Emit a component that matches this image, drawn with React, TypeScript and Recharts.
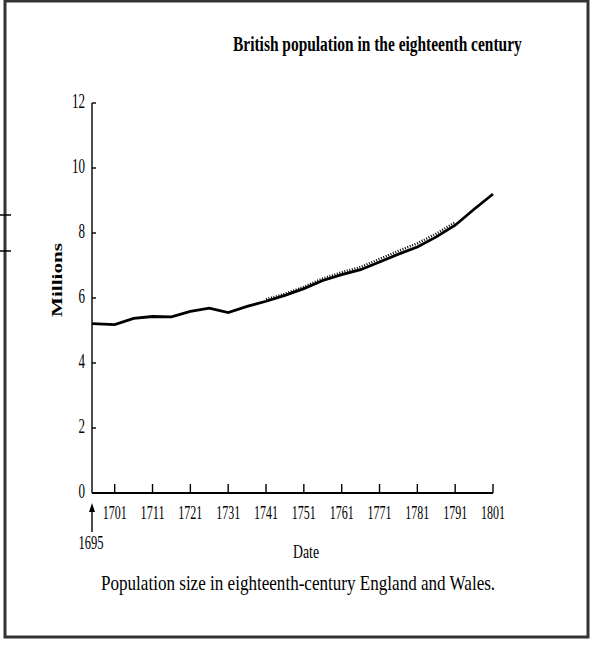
import React from 'react';
import { LineChart, Line, XAxis, YAxis } from 'recharts';

const years = [1695, 1701, 1706, 1711, 1716, 1721, 1726, 1731, 1736, 1741, 1746, 1751, 1756, 1761, 1766, 1771, 1776, 1781, 1786, 1791, 1796, 1801];
const population = [5.21, 5.18, 5.37, 5.43, 5.42, 5.59, 5.69, 5.55, 5.74, 5.9, 6.08, 6.29, 6.54, 6.72, 6.87, 7.11, 7.35, 7.57, 7.88, 8.24, 8.73, 9.2];
// hatched band drawn just above the main line in the source
const hatch = [null, null, null, null, null, null, null, null, null, 5.96, 6.13, 6.34, 6.6, 6.79, 6.95, 7.2, 7.45, 7.68, 7.98, 8.33, null, null];
const xTicks = [1701, 1711, 1721, 1731, 1741, 1751, 1761, 1771, 1781, 1791, 1801];
const yTicks = [0, 2, 4, 6, 8, 10, 12];

const data = years.map((year, i) => ({ year, population: population[i], hatch: hatch[i] }));

const FONT = '"Liberation Serif", "Times New Roman", serif';

const XTick = (props: any) => {
  const { x, y, payload } = props;
  const label = String(payload.value);
  return (
    <g>
      <line x1={x} x2={x} y1={y} y2={y - 9} stroke="#000" strokeWidth={1.4} />
      <text x={x} y={y + 26} textAnchor="middle" fontFamily={FONT} fontSize={19} fill="#000"
        textLength={24} lengthAdjust="spacingAndGlyphs">
        {label}
      </text>
    </g>
  );
};

const YTick = (props: any) => {
  const { x, y, payload } = props;
  const label = String(payload.value);
  return (
    <g>
      <line x1={x} x2={x + 4} y1={y} y2={y} stroke="#000" strokeWidth={1.4} />
      <text x={x - 7} y={y + 5} textAnchor="end" fontFamily={FONT} fontSize={20} fill="#000"
        textLength={6.5 * label.length} lengthAdjust="spacingAndGlyphs">
        {label}
      </text>
    </g>
  );
};

export default function App() {
  return (
    <div style={{ position: 'absolute', left: 0, top: 0, width: 593, height: 646, background: '#fff' }}>
      <svg width={593} height={646} style={{ position: 'absolute', left: 0, top: 0 }}>
        <rect x={5} y={1} width={583} height={636} fill="none" stroke="#333" strokeWidth={3} />
        <line x1={0} x2={11} y1={215} y2={215} stroke="#000" strokeWidth={1.5} />
        <line x1={0} x2={11} y1={251} y2={251} stroke="#000" strokeWidth={1.5} />
        <text transform="translate(233,51) scale(0.736,1)" fontFamily={FONT} fontWeight="bold" fontSize={21} fill="#000">
          British population in the eighteenth century
        </text>
        <text x={0} y={0} transform="translate(62,280) rotate(-90)" textAnchor="middle" fontFamily={FONT}
          fontWeight="bold" fontSize={15} fill="#000" textLength={74} lengthAdjust="spacingAndGlyphs">
          Millions
        </text>
        <line x1={92} x2={92} y1={532} y2={510} stroke="#000" strokeWidth={1.4} />
        <path d="M89,512 L92,503 L95,512 Z" fill="#000" />
        <text x={91} y={549} textAnchor="middle" fontFamily={FONT} fontSize={19} fill="#000"
          textLength={25} lengthAdjust="spacingAndGlyphs">
          1695
        </text>
        <text x={306} y={558} textAnchor="middle" fontFamily={FONT} fontSize={19} fill="#000"
          textLength={26} lengthAdjust="spacingAndGlyphs">
          Date
        </text>
        <text transform="translate(101,590) scale(0.776,1)" fontFamily={FONT} fontSize={22} fill="#000">
          Population size in eighteenth-century England and Wales.
        </text>
      </svg>
      <div style={{ position: 'absolute', left: 0, top: 0 }}>
        <LineChart width={593} height={646} data={data} margin={{ top: 103, right: 100, bottom: 123, left: 32 }}>
          <XAxis
            dataKey="year"
            type="number"
            domain={[1695, 1801]}
            ticks={xTicks}
            interval={0}
            height={30}
            tickSize={0}
            tickMargin={0}
            tickLine={false}
            axisLine={{ stroke: '#000', strokeWidth: 1.8 }}
            tick={<XTick />}
          />
          <YAxis
            type="number"
            domain={[0, 12]}
            ticks={yTicks}
            interval={0}
            width={60}
            tickSize={0}
            tickMargin={0}
            tickLine={false}
            axisLine={{ stroke: '#000', strokeWidth: 1.4 }}
            tick={<YTick />}
          />
          <Line
            dataKey="hatch"
            stroke="#000"
            strokeWidth={2.5}
            strokeDasharray="1 1.6"
            dot={false}
            connectNulls={false}
            isAnimationActive={false}
          />
          <Line
            dataKey="population"
            stroke="#000"
            strokeWidth={2.8}
            dot={false}
            isAnimationActive={false}
          />
        </LineChart>
      </div>
    </div>
  );
}
